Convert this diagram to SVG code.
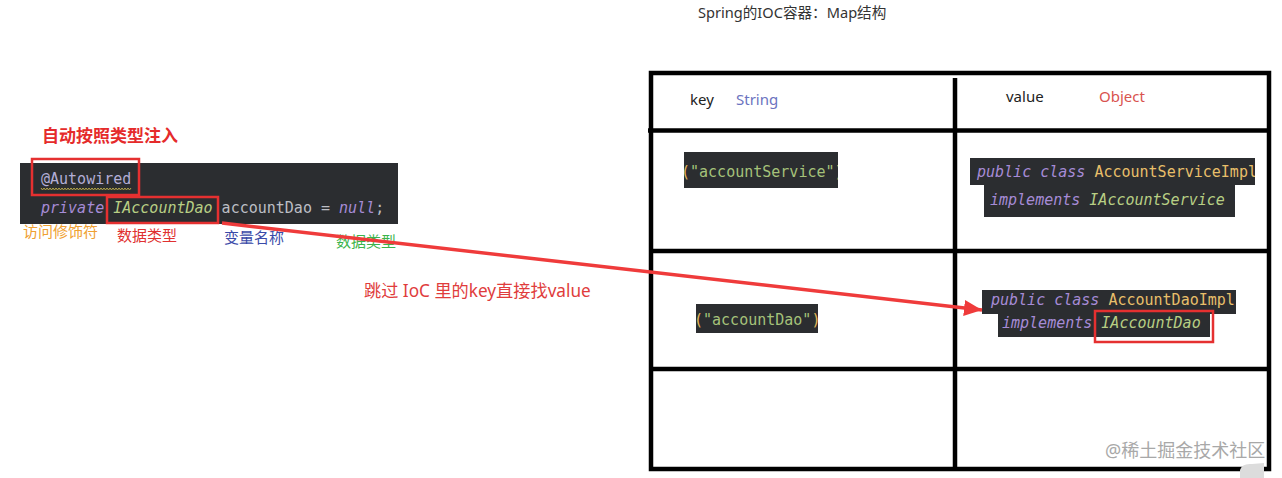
<svg xmlns="http://www.w3.org/2000/svg" width="1282" height="478" viewBox="0 0 1282 478">
<defs>
<style>
.cjk{font-family:"Noto Sans","Noto Sans CJK SC",sans-serif}
.code{font-family:"DejaVu Sans Mono","Liberation Mono",monospace;font-size:15px;white-space:pre}
.bg{fill:#2b2d30}
.kw{fill:#a68bd6;font-style:italic}
.cls{fill:#e8bf6a}
.itf{fill:#b8cf84;font-style:italic}
.plain{fill:#bcbec4}
.ann{fill:#b3aed6}
.str{fill:#a5c27a}
.par{fill:#e3b85a}
.hl{fill:none;stroke:#e53030;stroke-width:2.5}
.grid{stroke:#000;stroke-width:4.5;fill:none}
</style>
<clipPath id="c1"><rect x="684" y="152" width="154" height="36"/></clipPath>
<clipPath id="c2"><rect x="696" y="304" width="122" height="29"/></clipPath>
<clipPath id="c3"><rect x="970" y="158" width="285" height="27"/></clipPath>
<clipPath id="c4"><rect x="984" y="185" width="251" height="32"/></clipPath>
<clipPath id="c5"><rect x="982" y="290" width="254" height="24"/></clipPath>
<clipPath id="c6"><rect x="998" y="314" width="212" height="23"/></clipPath>
<marker id="ah" markerUnits="userSpaceOnUse" markerWidth="20" markerHeight="18" refX="18" refY="8" orient="auto">
<path d="M0,0 L18,8 L0,16 Z" fill="#ef3b3b"/>
</marker>
</defs>
<rect width="1282" height="478" fill="#ffffff"/>

<g id="title">
<text class="cjk" x="698" y="18" font-size="14.6" fill="#333">Spring的IOC容器：Map结构</text>
</g>

<g id="inject-label">
<text class="cjk" x="42" y="142" font-size="17" font-weight="bold" fill="#e52b2b">自动按照类型注入</text>
</g>

<g id="code-field">
<rect class="bg" x="20" y="163" width="378" height="61"/>
<text class="code ann" x="41" y="184">@Autowired</text>
<polyline points="41,188 42.5,190 44,188 45.5,190 47,188 48.5,190 50,188 51.5,190 53,188 54.5,190 56,188 57.5,190 59,188 60.5,190 62,188 63.5,190 65,188 66.5,190 68,188 69.5,190 71,188 72.5,190 74,188 75.5,190 77,188 78.5,190 80,188 81.5,190 83,188 84.5,190 86,188 87.5,190 89,188 90.5,190 92,188 93.5,190 95,188 96.5,190 98,188 99.5,190 101,188 102.5,190 104,188 105.5,190 107,188 108.5,190 110,188 111.5,190 113,188 114.5,190 116,188 117.5,190 119,188 120.5,190 122,188 123.5,190 125,188 126.5,190 128,188 129.5,190 131,188" fill="none" stroke="#b5a64a" stroke-width="1"/>
<text class="code" x="41" y="213"><tspan class="kw">private</tspan><tspan class="plain"> </tspan><tspan class="itf">IAccountDao</tspan><tspan class="plain"> accountDao = </tspan><tspan class="kw">null</tspan><tspan class="plain">;</tspan></text>
<rect class="hl" x="32" y="159" width="107" height="36"/>
<rect class="hl" x="107" y="197" width="111" height="26"/>
</g>

<g id="field-labels">
<text class="cjk" x="23" y="237" font-size="15" fill="#f0a030">访问修饰符</text>
<text class="cjk" x="117" y="241" font-size="15" fill="#e03030">数据类型</text>
<text class="cjk" x="224" y="243" font-size="15" fill="#3a4aa8">变量名称</text>
<text class="cjk" x="336" y="247" font-size="15" fill="#3cb44b">数据类型</text>
</g>

<g id="skip-label">
<text class="cjk" x="364" y="297" font-size="17.2" fill="#e03c3c">跳过 IoC 里的key直接找value</text>
</g>

<g id="ioc-table">
<rect class="grid" x="651" y="73" width="618" height="396"/>
<line class="grid" x1="648" y1="130.5" x2="1269" y2="130.5"/>
<line class="grid" x1="651" y1="251" x2="1269" y2="251"/>
<line class="grid" x1="651" y1="369" x2="1269" y2="369"/>
<line class="grid" x1="955" y1="78" x2="955" y2="469"/>
</g>

<g id="header">
<text class="cjk" x="690" y="105" font-size="15" fill="#222">key</text>
<text class="cjk" x="736" y="105" font-size="15" fill="#6b73c0">String</text>
<text class="cjk" x="1006" y="102" font-size="15" fill="#222">value</text>
<text class="cjk" x="1099" y="102" font-size="15" fill="#d9534f">Object</text>
</g>

<g id="key-accountService">
<rect class="bg" x="684" y="152" width="154" height="36"/>
<g clip-path="url(#c1)">
<text class="code" x="681" y="177"><tspan class="par">(</tspan><tspan class="str">"accountService"</tspan><tspan class="par">)</tspan></text>
</g>
</g>

<g id="value-AccountServiceImpl">
<rect class="bg" x="970" y="158" width="285" height="27"/>
<rect class="bg" x="984" y="185" width="251" height="32"/>
<g clip-path="url(#c3)">
<text class="code" x="977" y="177"><tspan class="kw">public class</tspan><tspan class="plain"> </tspan><tspan class="cls">AccountServiceImpl</tspan></text>
</g>
<g clip-path="url(#c4)">
<text class="code" x="990" y="205"><tspan class="kw">implements</tspan><tspan class="plain"> </tspan><tspan class="itf">IAccountService</tspan><tspan class="plain"> {</tspan></text>
</g>
</g>

<g id="key-accountDao">
<rect class="bg" x="696" y="304" width="122" height="29"/>
<g clip-path="url(#c2)">
<text class="code" x="694" y="325"><tspan class="par">(</tspan><tspan class="str">"accountDao"</tspan><tspan class="par">)</tspan></text>
</g>
</g>

<g id="value-AccountDaoImpl">
<rect class="bg" x="982" y="290" width="254" height="24"/>
<rect class="bg" x="998" y="314" width="212" height="23"/>
<g clip-path="url(#c5)">
<text class="code" x="991" y="305"><tspan class="kw">public class</tspan><tspan class="plain"> </tspan><tspan class="cls">AccountDaoImpl</tspan></text>
</g>
<g clip-path="url(#c6)">
<text class="code" x="1002" y="328"><tspan class="kw">implements</tspan><tspan class="plain"> </tspan><tspan class="itf">IAccountDao</tspan><tspan class="plain"> {</tspan></text>
</g>
<rect class="hl" x="1095" y="311" width="118" height="31"/>
</g>

<g id="connectors">
<path d="M222,223 L982,310" fill="none" stroke="#ef3b3b" stroke-width="3.5" marker-end="url(#ah)"/>
</g>

<g id="watermark">
<text class="cjk" x="1105" y="457" font-size="18" fill="#a8a8a8">@稀土掘金技术社区</text>
<path d="M1240,478 L1240,470 Q1242,463 1252,464 L1264,463 L1264,478 Z" fill="#dcdcdc"/>
</g>
</svg>
